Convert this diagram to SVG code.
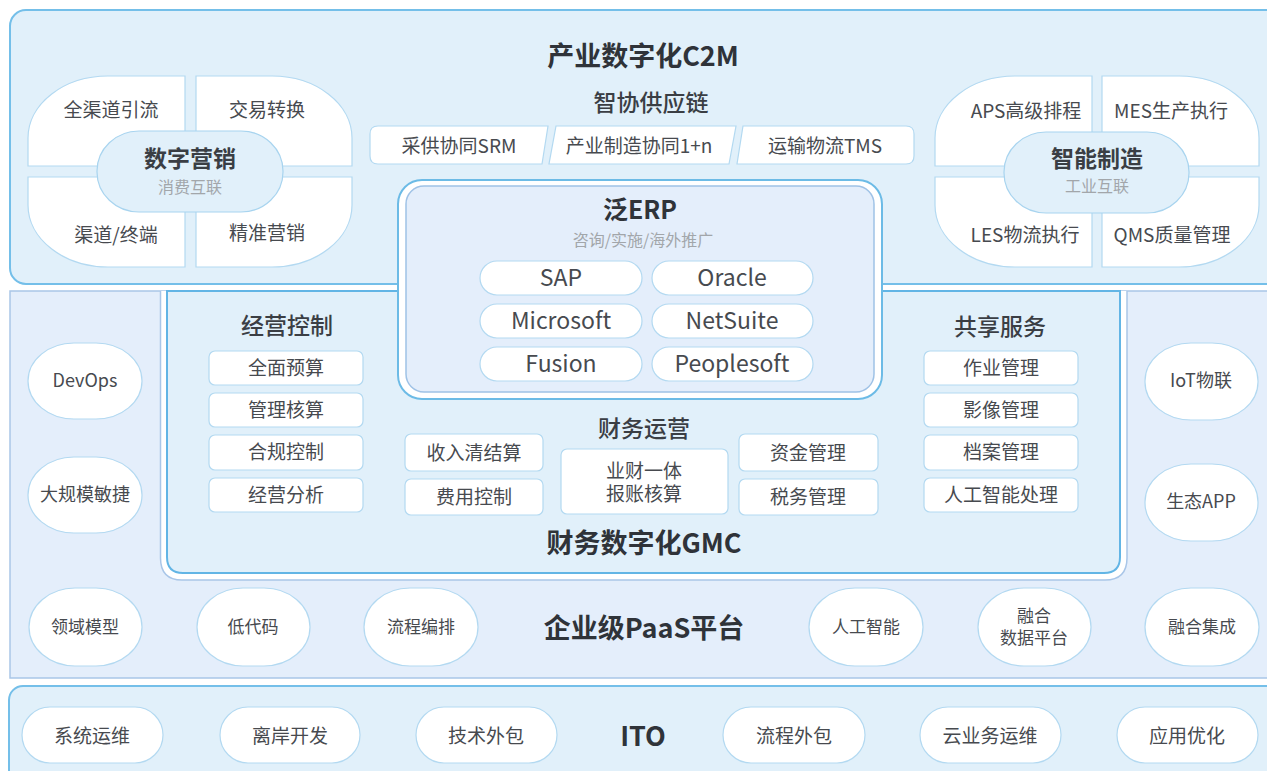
<svg xmlns="http://www.w3.org/2000/svg" width="1267" height="771" viewBox="0 0 1267 771">
<style>
text{font-family:"Noto Sans CJK SC","Noto Sans",sans-serif;text-anchor:middle;dominant-baseline:central;fill:#474a4f;transform:translateY(-2px)}
.pa{fill:#e1f0fa;stroke:#74bfe9;stroke-width:2}
.pb{fill:#e4eefb;stroke:#a9c6e8;stroke-width:1.5}
.w{fill:#fff;stroke:#b3d9f1;stroke-width:1.2}
.cp{fill:#e1f0fa;stroke:#a8d4ef;stroke-width:1.2}
.tm{font-size:27px;font-weight:700;fill:#2f3339}
.ts{font-size:23px;font-weight:500;fill:#3a3e44}
.tb{font-size:23px;font-weight:700;fill:#3a3e44}
.ti{font-size:19px}
.te{font-size:23px}
.tu{font-size:16px;fill:#a2a6aa}
.tc{font-size:18px}
.tp{font-size:17px}
</style>
<rect width="1267" height="771" fill="#fff"/>
<g id="panel-c2m">
<rect class="pa" x="10" y="10" width="1275" height="274" rx="16"/>
<text class="tm" x="643" y="56">产业数字化C2M</text>
</g>
<g id="panel-paas">
<rect class="pb" x="10" y="291" width="1275" height="387"/>
<path d="M160.5,291 V558 Q160.5,580 182,580 H1105 Q1127,580 1127,558 V291" fill="#fff" stroke="#a9c6e8" stroke-width="1.5"/>
<text class="tm" x="644" y="628">企业级PaaS平台</text>
</g>
<g id="panel-gmc">
<path d="M167,291 H1120 V557 Q1120,573 1104,573 H183 Q167,573 167,557 Z" fill="#e1f0fa" stroke="#62b5e5" stroke-width="2"/>
<text class="tm" x="644" y="543">财务数字化GMC</text>
</g>
<g id="panel-ito">
<rect class="pa" x="9" y="686" width="1280" height="100" rx="14"/>
<text class="tm" x="643" y="736">ITO</text>
</g>
<g id="marketing">
<path class="w" d="M185,76 V166 H28 V138 A80,62 0 0 1 108,76 Z"/>
<path class="w" d="M196,76 H272 A80,62 0 0 1 352,138 V166 H196 Z"/>
<path class="w" d="M28,177 H185 V267 H108 A80,62 0 0 1 28,205 Z"/>
<path class="w" d="M196,177 H352 V205 A80,62 0 0 1 272,267 H196 Z"/>
<rect class="cp" x="97" y="131" width="186" height="81" rx="42" ry="40"/>
<text class="ti" x="111" y="110">全渠道引流</text>
<text class="ti" x="267" y="110">交易转换</text>
<text class="ti" x="116" y="235">渠道/终端</text>
<text class="ti" x="267" y="233">精准营销</text>
<text class="tb" x="190" y="159">数字营销</text>
<text class="tu" x="190" y="188">消费互联</text>
</g>
<g id="manufacturing">
<path class="w" d="M1092,76 V166 H935 V138 A80,62 0 0 1 1015,76 Z"/>
<path class="w" d="M1102,76 H1179 A80,62 0 0 1 1259,138 V166 H1102 Z"/>
<path class="w" d="M935,177 H1092 V267 H1015 A80,62 0 0 1 935,205 Z"/>
<path class="w" d="M1102,177 H1259 V205 A80,62 0 0 1 1179,267 H1102 Z"/>
<rect class="cp" x="1004" y="132" width="185" height="81" rx="42" ry="40"/>
<text class="ti" x="1026" y="111">APS高级排程</text>
<text class="ti" x="1171" y="111">MES生产执行</text>
<text class="ti" x="1025" y="235">LES物流执行</text>
<text class="ti" x="1172" y="235">QMS质量管理</text>
<text class="tb" x="1097" y="159">智能制造</text>
<text class="tu" x="1097" y="187">工业互联</text>
</g>
<g id="supply-chain">
<text class="ts" x="651" y="103">智协供应链</text>
<path class="w" d="M378,126 H548 L542,164 H378 Q370,164 370,156 V134 Q370,126 378,126 Z"/>
<path class="w" d="M556,126 H736 L729,164 H549 Z"/>
<path class="w" d="M743,126 H906 Q914,126 914,134 V156 Q914,164 906,164 H737 Z"/>
<text class="ti" x="459" y="146">采供协同SRM</text>
<text class="ti" x="639" y="146">产业制造协同1+n</text>
<text class="ti" x="825" y="146">运输物流TMS</text>
</g>
<g id="erp">
<rect x="398" y="180" width="484" height="219" rx="24" fill="#fff" stroke="#6cbbe6" stroke-width="2"/>
<rect x="406" y="186" width="468" height="206" rx="18" fill="#e4eefb" stroke="#9fc2e6" stroke-width="1.5"/>
<text x="640" y="210" style="font-size:25px;font-weight:700;fill:#2f3339">泛ERP</text>
<text class="tu" x="643" y="241">咨询/实施/海外推广</text>
<rect class="w" x="480" y="261" width="162" height="34" rx="17"/>
<rect class="w" x="652" y="261" width="161" height="34" rx="17"/>
<rect class="w" x="480" y="304" width="162" height="34" rx="17"/>
<rect class="w" x="652" y="304" width="161" height="34" rx="17"/>
<rect class="w" x="480" y="347" width="162" height="34" rx="17"/>
<rect class="w" x="652" y="347" width="161" height="34" rx="17"/>
<text class="te" x="561" y="278">SAP</text>
<text class="te" x="732" y="278">Oracle</text>
<text class="te" x="561" y="321">Microsoft</text>
<text class="te" x="732" y="321">NetSuite</text>
<text class="te" x="561" y="364">Fusion</text>
<text class="te" x="732" y="364">Peoplesoft</text>
</g>
<g id="control">
<text class="ts" x="287" y="326">经营控制</text>
<rect class="w" x="209" y="351" width="154" height="34" rx="6"/>
<rect class="w" x="209" y="393" width="154" height="34" rx="6"/>
<rect class="w" x="209" y="435" width="154" height="35" rx="6"/>
<rect class="w" x="209" y="478" width="154" height="34" rx="6"/>
<text class="ti" x="286" y="368">全面预算</text>
<text class="ti" x="286" y="410">管理核算</text>
<text class="ti" x="286" y="452">合规控制</text>
<text class="ti" x="286" y="495">经营分析</text>
</g>
<g id="shared">
<text class="ts" x="1000" y="327">共享服务</text>
<rect class="w" x="924" y="351" width="154" height="34" rx="6"/>
<rect class="w" x="924" y="393" width="154" height="34" rx="6"/>
<rect class="w" x="924" y="435" width="154" height="35" rx="6"/>
<rect class="w" x="924" y="478" width="154" height="34" rx="6"/>
<text class="ti" x="1001" y="368">作业管理</text>
<text class="ti" x="1001" y="410">影像管理</text>
<text class="ti" x="1001" y="452">档案管理</text>
<text class="ti" x="1001" y="495">人工智能处理</text>
</g>
<g id="operations">
<text class="ts" x="644" y="429">财务运营</text>
<rect class="w" x="405" y="434" width="138" height="37" rx="6"/>
<rect class="w" x="405" y="479" width="138" height="36" rx="6"/>
<rect class="w" x="561" y="449" width="167" height="65" rx="6"/>
<rect class="w" x="739" y="434" width="139" height="37" rx="6"/>
<rect class="w" x="739" y="479" width="139" height="36" rx="6"/>
<text class="ti" x="474" y="453">收入清结算</text>
<text class="ti" x="474" y="497">费用控制</text>
<text class="ti"><tspan x="644" y="471">业财一体</tspan><tspan x="644" y="494">报账核算</tspan></text>
<text class="ti" x="808" y="453">资金管理</text>
<text class="ti" x="808" y="497">税务管理</text>
</g>
<g id="side-left">
<rect class="w" x="28" y="343" width="114" height="76" rx="46" ry="38"/>
<rect class="w" x="28" y="457" width="114" height="76" rx="46" ry="38"/>
<text class="tc" x="85" y="381">DevOps</text>
<text class="tc" x="85" y="495">大规模敏捷</text>
</g>
<g id="side-right">
<rect class="w" x="1145" y="343" width="113" height="77" rx="46" ry="38"/>
<rect class="w" x="1145" y="464" width="113" height="77" rx="46" ry="38"/>
<text class="tc" x="1201" y="381">IoT物联</text>
<text class="tc" x="1201" y="502">生态APP</text>
</g>
<g id="paas-items">
<rect class="w" x="29" y="588" width="113" height="78" rx="46" ry="39"/>
<rect class="w" x="197" y="588" width="113" height="78" rx="46" ry="39"/>
<rect class="w" x="364" y="588" width="114" height="78" rx="46" ry="39"/>
<rect class="w" x="809" y="588" width="114" height="78" rx="46" ry="39"/>
<rect class="w" x="978" y="588" width="113" height="78" rx="46" ry="39"/>
<rect class="w" x="1145" y="588" width="114" height="78" rx="46" ry="39"/>
<text class="tp" x="85" y="627">领域模型</text>
<text class="tp" x="253" y="627">低代码</text>
<text class="tp" x="421" y="627">流程编排</text>
<text class="tp" x="866" y="627">人工智能</text>
<text class="tp"><tspan x="1034" y="616">融合</tspan><tspan x="1034" y="638">数据平台</tspan></text>
<text class="tp" x="1202" y="627">融合集成</text>
</g>
<g id="ito-items">
<rect class="w" x="22" y="707" width="141" height="56" rx="28"/>
<rect class="w" x="220" y="707" width="140" height="56" rx="28"/>
<rect class="w" x="416" y="707" width="141" height="56" rx="28"/>
<rect class="w" x="723" y="707" width="142" height="56" rx="28"/>
<rect class="w" x="920" y="707" width="141" height="56" rx="28"/>
<rect class="w" x="1117" y="707" width="141" height="56" rx="28"/>
<text class="ti" x="92" y="736">系统运维</text>
<text class="ti" x="290" y="736">离岸开发</text>
<text class="ti" x="486" y="736">技术外包</text>
<text class="ti" x="794" y="736">流程外包</text>
<text class="ti" x="990" y="736">云业务运维</text>
<text class="ti" x="1187" y="736">应用优化</text>
</g>
<g id="connectors"/>
</svg>
